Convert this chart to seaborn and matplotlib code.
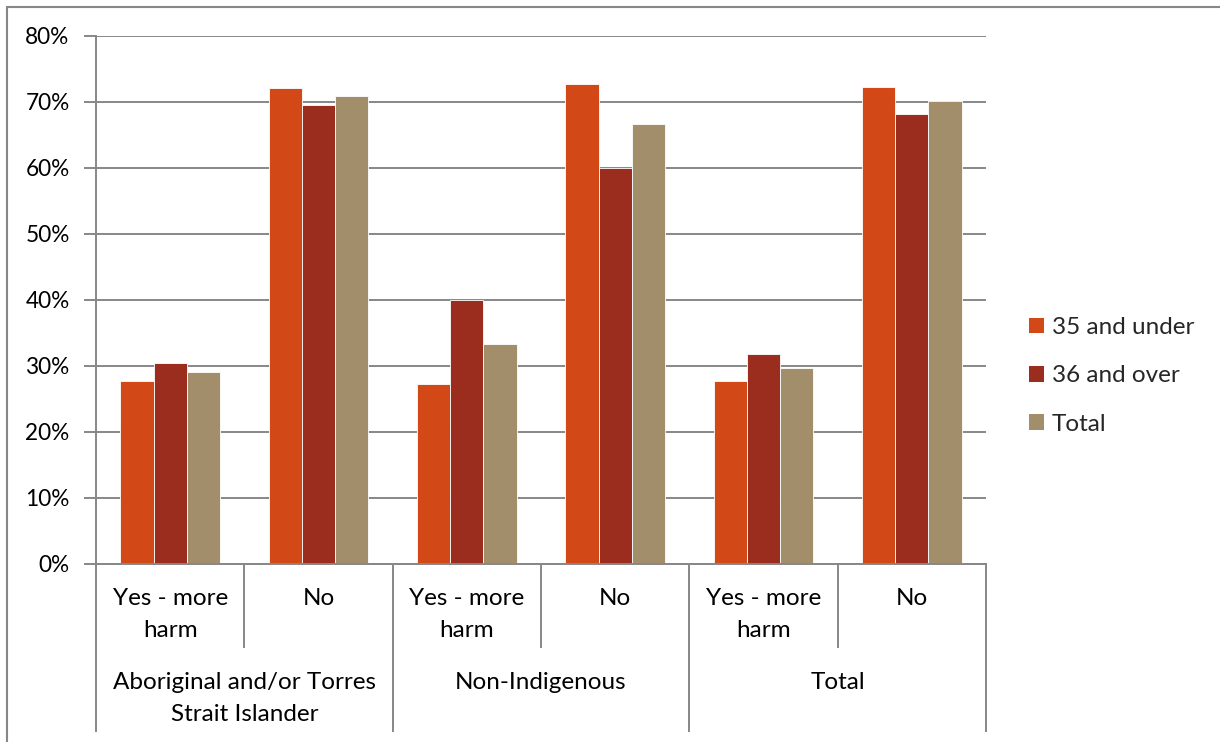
import matplotlib
matplotlib.use("Agg")
import matplotlib.pyplot as plt
import matplotlib.transforms as mtransforms
from matplotlib.patches import Rectangle, Patch
import seaborn as sns
import pandas as pd

# Survey responses by Indigenous status and age group (share of respondents)
groups = ["Aboriginal and/or Torres\nStrait Islander", "Non-Indigenous", "Total"]
answers = ["Yes - more\nharm", "No"]
series = ["35 and under", "36 and over", "Total"]

under_35 = [27.8, 72.1, 27.2, 72.7, 27.7, 72.2]
over_36 = [30.4, 69.6, 40.0, 60.0, 31.8, 68.2]
total = [29.1, 70.9, 33.3, 66.7, 29.7, 70.2]

colors = ["#D34817", "#9B2D1F", "#A28E6A"]
grid_grey = "#878787"
label_size = 17.5
tick_size = 16.3

categories = [f"{g}|{a}" for g in groups for a in answers]
rows = []
for name, vals in zip(series, [under_35, over_36, total]):
    for cat, v in zip(categories, vals):
        rows.append({"category": cat, "series": name, "value": v})
df = pd.DataFrame(rows)

sns.set_theme(style="white")
plt.rcParams["font.family"] = ["Lato", "DejaVu Sans"]

fig = plt.figure(figsize=(12.2, 7.42), dpi=100)
ax = fig.add_axes([96 / 1220, 1 - 564 / 742, 890 / 1220, 528 / 742])

sns.barplot(data=df, x="category", y="value", hue="series", order=categories,
            hue_order=series, palette=colors, width=0.67, saturation=1,
            edgecolor="white", linewidth=0.6, ax=ax, legend=True)

ax.set_xlim(-0.5, len(categories) - 0.5)
ax.set_ylim(0, 80)
ax.set_yticks(range(0, 81, 10))
ax.set_yticklabels([f"{t}%" for t in range(0, 81, 10)], fontsize=tick_size, color="black")
ax.yaxis.grid(True, color=grid_grey, linewidth=1.4)
ax.set_axisbelow(True)
ax.set_xlabel("")
ax.set_ylabel("")
ax.set_xticks([])
ax.tick_params(axis="y", which="major", direction="out", length=9, width=1.4,
               color=grid_grey, left=True, pad=10)
for side in ["top", "right"]:
    ax.spines[side].set_visible(False)
for side in ["left", "bottom"]:
    ax.spines[side].set_color(grid_grey)
    ax.spines[side].set_linewidth(1.4)

# Two-level category axis: answers on the first row, groups below
trans = mtransforms.blended_transform_factory(ax.transData, fig.transFigure)
def fy(px):
    return 1 - px / 742

for i, cat in enumerate(categories):
    g, a = cat.split("|")
    ax.text(i, fy(588), a, transform=trans, ha="center", va="top",
            fontsize=label_size, linespacing=1.62, color="black")
for j, g in enumerate(groups):
    ax.text(2 * j + 0.5, fy(672), g, transform=trans, ha="center", va="top",
            fontsize=label_size, linespacing=1.62, color="black")

for b in range(len(categories) + 1):
    x = b - 0.5
    bottom = 732 if b % 2 == 0 else 648
    ax.plot([x, x], [fy(564), fy(bottom)], transform=trans, color=grid_grey,
            linewidth=1.4, clip_on=False, solid_capstyle="butt")

# Legend on the right
ax.legend_.remove()
handles = [Patch(facecolor=c, edgecolor="none") for c in colors]
fig.legend(handles, series, loc="center left", bbox_to_anchor=(1029 / 1220, fy(376)),
           frameon=False, fontsize=label_size, handlelength=0.6, handleheight=0.6,
           handletextpad=0.35, labelspacing=1.12, borderaxespad=0, borderpad=0)

# Chart area frame
fig.patches.append(Rectangle((7 / 1220, -0.1), 1.2, fy(7) + 0.1,
                             transform=fig.transFigure, fill=False,
                             edgecolor=grid_grey, linewidth=1.5))

fig.savefig("out.png", dpi=100, facecolor="white")
